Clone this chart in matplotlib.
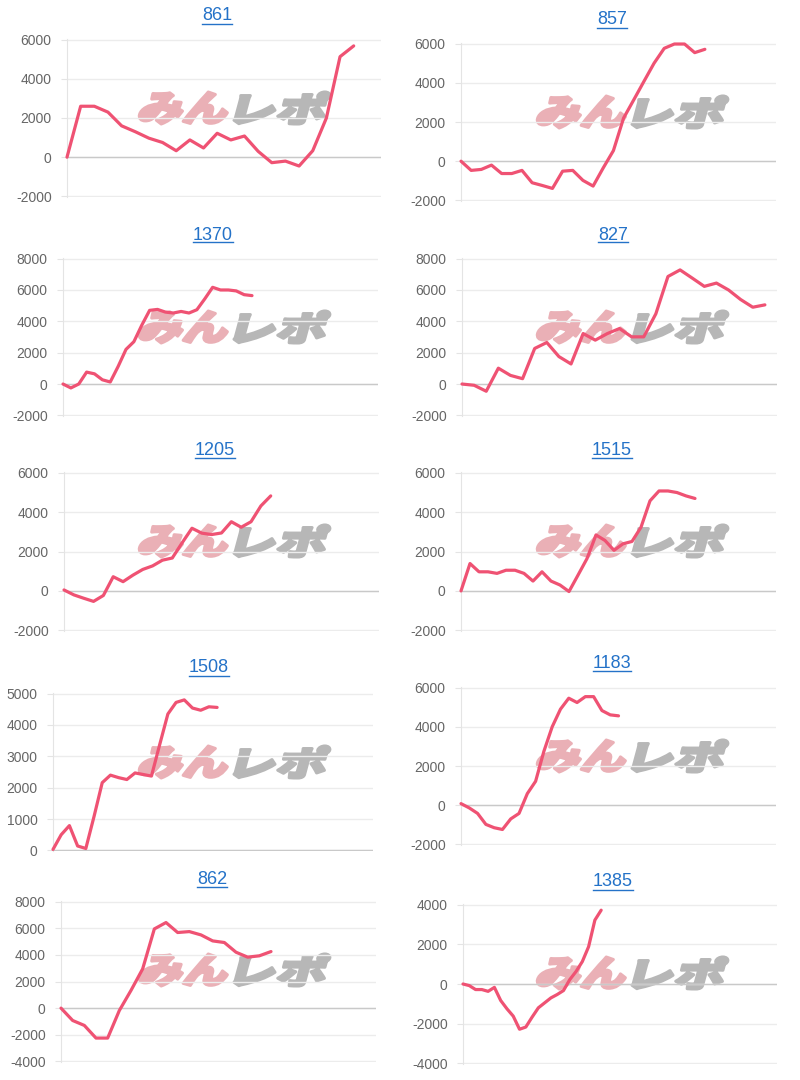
import numpy as np
import matplotlib
matplotlib.use('Agg')
import matplotlib.pyplot as plt
from matplotlib.textpath import TextPath
from matplotlib.patches import PathPatch
from matplotlib.font_manager import FontProperties
from matplotlib.transforms import Affine2D
from matplotlib.lines import Line2D

plt.rcParams['font.family'] = ['Liberation Sans', 'DejaVu Sans']
plt.rcParams['axes.unicode_minus'] = False

W, H = 800, 1080

titles = ['861', '857', '1370', '827', '1205', '1515', '1508', '1183', '862', '1385']

v861 = [0, 2600, 2600, 2300, 1600, 1300, 970, 750, 330, 880, 470, 1220, 880, 1080,
        300, -280, -200, -450, 330, 2000, 5130, 5680]
v857 = [0, -470, -420, -200, -630, -630, -470, -1100, -1240, -1390, -510, -470, -980,
        -1270, -340, 540, 2200, 3130, 4070, 5000, 5760, 5980, 5980, 5540, 5710]
v1370 = [0, -250, 0, 760, 650, 270, 130, 1120, 2210, 2700, 3750, 4700, 4760, 4590, 4530,
         4630, 4530, 4740, 5430, 6170, 6000, 6000, 5940, 5700, 5640]
v827 = [0, -80, -460, 1010, 550, 340, 2270, 2650, 1750, 1280, 3220, 2800, 3220, 3540,
        3010, 3010, 4480, 6860, 7280, 6760, 6230, 6440, 6000, 5390, 4900, 5050]
v1205 = [50, -200, -370, -530, -230, 720, 470, 800, 1090, 1270, 1560, 1670, 2440, 3180,
         2930, 2860, 2940, 3510, 3230, 3510, 4310, 4820]
v1515 = [0, 1390, 970, 970, 890, 1050, 1050, 890, 500, 970, 500, 300, -30, 800, 1640,
         2840, 2560, 2060, 2390, 2510, 3230, 4570, 5070, 5070, 4990, 4820, 4690]
v1508 = [30, 500, 790, 140, 60, 1080, 2160, 2400, 2320, 2260, 2470, 2420, 2370, 3370,
         4350, 4720, 4800, 4540, 4470, 4580, 4560]
v1183 = [80, -140, -420, -980, -1150, -1240, -700, -420, 590, 1220, 2750, 4000, 4900,
         5460, 5240, 5540, 5540, 4830, 4610, 4560]
v862 = [0, -930, -1300, -2250, -2250, -180, 1330, 2950, 5950, 6430, 5680, 5750, 5500,
        5050, 4930, 4200, 3830, 3930, 4250]
v1385 = [0, -80, -280, -280, -370, -170, -830, -1250, -1620, -2280, -2170, -1670, -1200,
         -950, -700, -530, -330, 220, 630, 1130, 1880, 3220, 3720]

series = [v861, v857, v1370, v827, v1205, v1515, v1508, v1183, v862, v1385]
slots = [23, 31, 40, 26, 32, 35, 39, 38, 27, 50]
y_ranges = [(-2000, 6000, 2000), (-2000, 6000, 2000), (-2000, 8000, 2000), (-2000, 8000, 2000),
            (-2000, 6000, 2000), (-2000, 6000, 2000), (0, 5000, 1000), (-2000, 6000, 2000),
            (-4000, 8000, 2000), (-4000, 4000, 2000)]

# pixel layout: title x, title y, left, right, top, bottom
boxes = [(217, 16, 67, 381, 39, 197), (612, 20, 461, 776, 43, 201),
         (213, 235, 63, 378, 258, 416), (613, 235, 462, 777, 258, 416),
         (215, 450, 64, 379, 472, 631), (612, 451, 461, 776, 472, 631),
         (209, 668, 53, 373, 693, 851), (612, 663, 461, 776, 687, 845),
         (212, 880, 61, 376, 901, 1062), (613, 882, 463, 777, 904, 1064)]

LINE = '#ef5273'
LINK = '#2472c8'

fig = plt.figure(figsize=(W / 100, H / 100), dpi=100)
mark_font = FontProperties(family='Noto Sans CJK JP', weight='black')


def draw_mark(text, x, y_top, w, h, color):
    tp = TextPath((0, 0), text, size=1, prop=mark_font)
    ext = tp.get_extents()
    slant = 0.27
    sx = (w - h * slant) / ext.width
    sy = h / ext.height
    tr = (Affine2D().translate(-ext.x0, -ext.y0).scale(sx, sy)
          .skew(np.arctan(slant), 0).translate(x, H - y_top - h).scale(1 / 100))
    patch = PathPatch(tr.transform_path(tp), facecolor=color, edgecolor=color,
                      lw=2.2, joinstyle='round', transform=fig.dpi_scale_trans, zorder=0.5)
    fig.add_artist(patch)


title_texts = []
for i, vals in enumerate(series):
    tx, ty, l, r, t, b = boxes[i]
    lo, hi, step = y_ranges[i]

    mx = 137 if l < 300 else 535
    draw_mark('みん', mx, t + 53, 96, 32, '#eab0b6')
    draw_mark('レポ', mx + 96, t + 53, 98, 32, '#b7b7b7')

    ax = fig.add_axes([l / W, 1 - b / H, (r - l) / W, (b - t) / H])
    ax.patch.set_alpha(0)
    ax.set_zorder(2)
    ax.plot(np.arange(len(vals)), vals, color=LINE, lw=2.3, solid_joinstyle='round',
            solid_capstyle='round', zorder=5, clip_on=False)
    ax.set_xlim(0, slots[i])
    pad = (hi - lo) * 0.004
    ax.set_ylim(lo - pad, hi + pad)
    ax.set_yticks(np.arange(lo, hi + 1, step))
    ax.set_xticks([])
    ax.grid(axis='y', color='#ececec', lw=1)
    ax.set_axisbelow(True)
    for s in ['top', 'right', 'bottom']:
        ax.spines[s].set_visible(False)
    ax.spines['left'].set_color('#e4e4e4')
    ax.axhline(0, color='#c9c9c9', lw=1, zorder=1)
    ax.tick_params(axis='y', length=4, color='#e4e4e4', labelcolor='#666666',
                   labelsize=10, pad=7)

    title_texts.append(fig.text(tx / W, 1 - ty / H, titles[i], ha='center', va='center',
                                color=LINK, fontsize=13))

fig.canvas.draw()
renderer = fig.canvas.get_renderer()
inv = fig.transFigure.inverted()
for txt in title_texts:
    bb = txt.get_window_extent(renderer)
    (x0, y0), (x1, _) = inv.transform([(bb.x0, bb.y0 + 1), (bb.x1, bb.y0 + 1)])
    fig.add_artist(Line2D([x0, x1], [y0, y0], color=LINK, lw=1, transform=fig.transFigure))

fig.savefig('out.png', dpi=100)
